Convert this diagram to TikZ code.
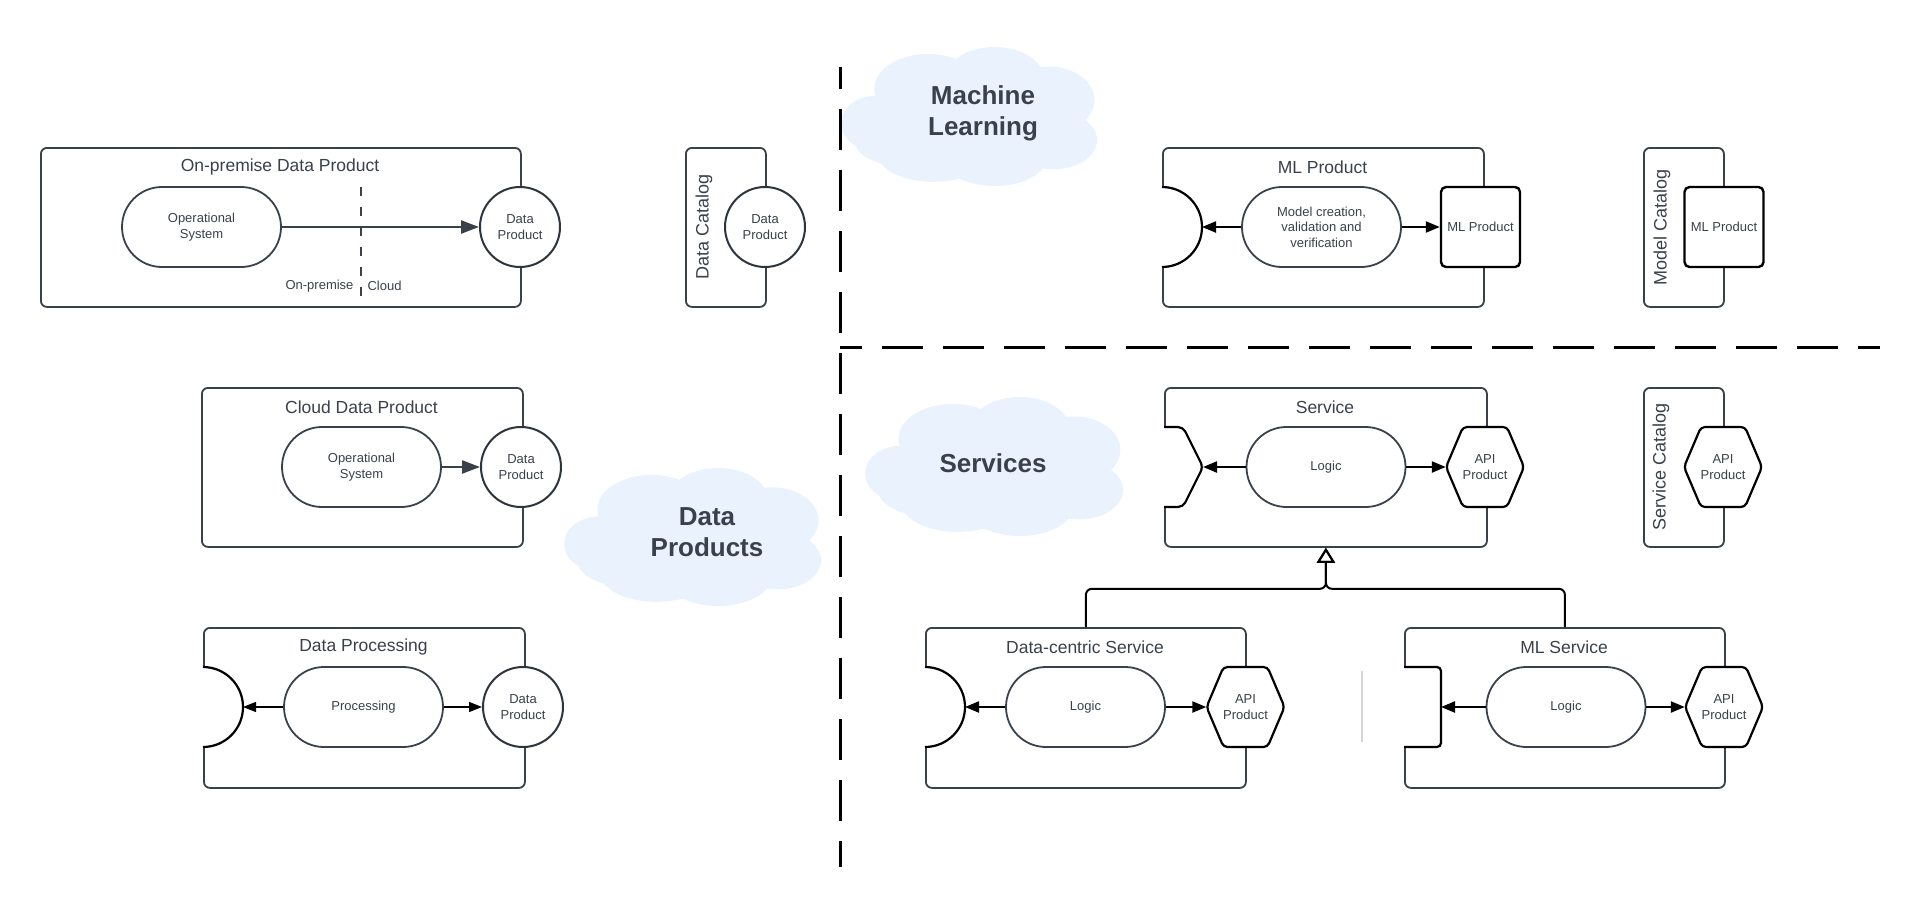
\documentclass[tikz,border=0pt]{standalone}
\usepackage{fontspec}
\setmainfont{Liberation Sans}
\usetikzlibrary{shapes.misc,arrows.meta,calc}
\definecolor{boxline}{HTML}{3A414A}
\definecolor{txt}{HTML}{3A414A}
\definecolor{cloudfill}{HTML}{EAF3FD}
\definecolor{thinline}{HTML}{D6D6D6}
\newcommand{\cloudat}[4]{%
  \begin{scope}[shift={(#1,#2)}, xscale=#3, yscale=#4]
    \fill[cloudfill] (0.5,0.52) ellipse [x radius=0.4, y radius=0.36];
    \fill[cloudfill] (0.14,0.55) ellipse [x radius=0.14, y radius=0.2];
    \fill[cloudfill] (0.22,0.66) ellipse [x radius=0.17, y radius=0.19];
    \fill[cloudfill] (0.34,0.3) ellipse [x radius=0.21, y radius=0.25];
    \fill[cloudfill] (0.6,0.22) ellipse [x radius=0.19, y radius=0.22];
    \fill[cloudfill] (0.81,0.38) ellipse [x radius=0.18, y radius=0.24];
    \fill[cloudfill] (0.83,0.67) ellipse [x radius=0.17, y radius=0.21];
    \fill[cloudfill] (0.6,0.78) ellipse [x radius=0.21, y radius=0.22];
    \fill[cloudfill] (0.36,0.76) ellipse [x radius=0.22, y radius=0.21];
  \end{scope}}
\newcommand{\hexat}[3]{%
  \draw[hexline, shift={(#2,#3)}] (-39,0) -- (-22,-40) -- (22,-40) -- (39,0) -- (22,40) -- (-22,40) -- cycle;
  \node[hexnode] (#1) at (#2,#3) {API\\Product};}
\begin{document}
\begin{tikzpicture}[x=1pt,y=-1pt,
  cbox/.style={draw=boxline, line width=1.8pt, rounded corners=6pt, anchor=north west, inner sep=0pt},
  ttl/.style={text=txt, font=\fontsize{17.5}{20}\selectfont},
  cattext/.style={text=txt, font=\fontsize{18}{21}\selectfont, rotate=90},
  stad/.style={rounded rectangle, draw=boxline, line width=1.8pt, fill=white, minimum width=161pt, minimum height=80pt, inner sep=1pt, align=center, text=txt, font=\fontsize{13}{15.5}\selectfont},
  dpc/.style={circle, draw=boxline!80!black, line width=2pt, fill=white, minimum size=80pt, inner sep=0pt, align=center, text=txt, font=\fontsize{13}{16}\selectfont},
  mlsq/.style={rectangle, rounded corners=5pt, draw=black, line width=2.4pt, fill=white, minimum width=79pt, minimum height=80pt, inner sep=0pt, align=center, text=txt, font=\fontsize{13}{16}\selectfont},
  hexline/.style={draw=black, line width=2.2pt, fill=white, rounded corners=4pt},
  hexnode/.style={minimum width=78pt, minimum height=80pt, inner sep=0pt, align=center, text=txt, font=\fontsize{13}{16}\selectfont},
  notchline/.style={draw=black, line width=2.2pt},
  flow/.style={draw=black, line width=2.2pt, -{Triangle[length=14pt,width=11pt]}},
  thinflow/.style={draw=black, line width=1.2pt, -{Triangle[length=13pt,width=10pt]}},
  grayflow/.style={draw=boxline, line width=2.4pt, -{Triangle[length=18pt,width=13pt]}},
  divider/.style={draw=black, line width=3pt, dash pattern=on 41pt off 20pt, dash phase=19pt},
  inh/.style={draw=black, line width=2pt, rounded corners=6pt, -{Triangle[open,length=15pt,width=18pt]}},
  cloudtext/.style={text=txt, font=\fontsize{26}{31}\selectfont\bfseries, align=center},
  lbl/.style={text=txt, font=\fontsize{13}{15}\selectfont},
]
\fill[white] (0,0) rectangle (1920,907);
\useasboundingbox (0,0) rectangle (1920,907);

% clouds
\cloudat{841}{47}{256}{139}
\cloudat{865}{397}{258}{139}
\cloudat{564}{468}{257}{138}
\node[cloudtext] (mlcloud) at (983,113) {Machine\\Learning};
\node[cloudtext] (svcloud) at (993,463) {Services};
\node[cloudtext] (dpcloud) at (707,532) {Data\\Products};

% dividers
\coordinate (vtop) at (840,67);
\coordinate (vbot) at (840,867);
\coordinate (hleft) at (840,347);
\coordinate (hright) at (1880,347);
\draw[divider] (vtop) -- (vbot);
\draw[divider] (hleft) -- (hright);

% ---------- On-premise Data Product
\node[cbox, minimum width=480pt, minimum height=159pt] (onprem) at (40,147) {};
\node[ttl] (onpremt) at (280,167) {On-premise Data Product};
\coordinate (splittop) at (361,187);
\coordinate (splitbot) at (361,306);
\draw[boxline, line width=1.8pt, dash pattern=on 9pt off 11pt] (splittop) -- (splitbot);
\node[lbl, anchor=east] (onpl) at (357,286) {On-premise};
\node[lbl, anchor=west] (cldl) at (364,286) {Cloud};
\node[stad] (os1) at (201.5,227) {Operational\\System};
\node[dpc] (dp1) at (520,227) {Data\\Product};
\draw[grayflow] (os1.east) -- (dp1.west);

% ---------- Data Catalog
\node[cbox, minimum width=80pt, minimum height=159pt] (dcat) at (685,147) {};
\node[cattext] (dcatt) at (704,227) {Data Catalog};
\node[dpc] (dp2) at (765,227) {Data\\Product};

% ---------- Cloud Data Product
\node[cbox, minimum width=321pt, minimum height=159pt] (cdp) at (201,387) {};
\node[ttl] (cdpt) at (361.5,407) {Cloud Data Product};
\node[stad] (os2) at (361.5,467) {Operational\\System};
\node[dpc] (dp3) at (521,467) {Data\\Product};
\draw[grayflow] (os2.east) -- (dp3.west);

% ---------- Data Processing
\node[cbox, minimum width=321pt, minimum height=160pt] (dproc) at (203,627) {};
\node[ttl] (dproct) at (363.5,647) {Data Processing};
\fill[white] (201.5,667) rectangle (204.5,747);
\draw[notchline] (203,667) arc[start angle=-90, end angle=90, radius=40];
\coordinate (tip1) at (243,707);
\node[stad] (proc) at (363.5,707) {Processing};
\node[dpc] (dp4) at (523,707) {Data\\Product};
\draw[thinflow] (proc.west) -- (tip1);
\draw[thinflow] (proc.east) -- (dp4.west);

% ---------- ML Product
\node[cbox, minimum width=321pt, minimum height=159pt] (mlprod) at (1162,147) {};
\node[ttl] (mlprodt) at (1322.5,167) {ML Product};
\fill[white] (1160.5,187) rectangle (1163.5,267);
\draw[notchline] (1162,187) arc[start angle=-90, end angle=90, radius=40];
\coordinate (tip2) at (1202,227);
\node[stad] (mlc) at (1321.5,227) {Model creation,\\validation and\\verification};
\node[mlsq] (mlp1) at (1480.5,227) {ML Product};
\draw[flow] (mlc.west) -- (tip2);
\draw[flow] (mlc.east) -- (mlp1.west);

% ---------- Model Catalog
\node[cbox, minimum width=80pt, minimum height=159pt] (mcat) at (1643,147) {};
\node[cattext] (mcatt) at (1662,227) {Model Catalog};
\node[mlsq] (mlp2) at (1724,227) {ML Product};

% ---------- Service
\node[cbox, minimum width=322pt, minimum height=159pt] (svc) at (1164,387) {};
\node[ttl] (svct) at (1325,407) {Service};
\fill[white] (1162.5,427) rectangle (1165.5,507);
\draw[notchline, rounded corners=5pt] (1164,427) -- (1183,427) -- (1203,467) -- (1183,507) -- (1164,507);
\coordinate (tip3) at (1203,467);
\node[stad] (logic1) at (1326,467) {Logic};
\hexat{api1}{1485}{467}
\draw[flow] (logic1.west) -- (tip3);
\draw[flow] (logic1.east) -- (api1.west);

% ---------- Service Catalog
\node[cbox, minimum width=80pt, minimum height=159pt] (scat) at (1643,387) {};
\node[cattext] (scatt) at (1661,467) {Service Catalog};
\hexat{api2}{1723}{467}

% ---------- Data-centric Service
\node[cbox, minimum width=320pt, minimum height=160pt] (dcs) at (925,627) {};
\node[ttl] (dcst) at (1085,647) {Data-centric Service};
\fill[white] (923.5,667) rectangle (926.5,747);
\draw[notchline] (925,667) arc[start angle=-90, end angle=90, radius=40];
\coordinate (tip4) at (965,707);
\node[stad] (logic2) at (1085.5,707) {Logic};
\hexat{api3}{1245.5}{707}
\draw[flow] (logic2.west) -- (tip4);
\draw[flow] (logic2.east) -- (api3.west);

% thin separator
\coordinate (thintop) at (1362,671);
\coordinate (thinbot) at (1362,742);
\draw[thinline, line width=1.2pt] (thintop) -- (thinbot);

% ---------- ML Service
\node[cbox, minimum width=320pt, minimum height=160pt] (mls) at (1404,627) {};
\node[ttl] (mlst) at (1564,647) {ML Service};
\fill[white] (1402.5,667) rectangle (1405.5,747);
\draw[notchline, rounded corners=4pt] (1404,667) -- (1441,667) -- (1441,747) -- (1404,747);
\coordinate (tip5) at (1441,707);
\node[stad] (logic3) at (1566,707) {Logic};
\hexat{api4}{1724}{707}
\draw[flow] (logic3.west) -- (tip5);
\draw[flow] (logic3.east) -- (api4.west);

% ---------- inheritance
\draw[inh] (dcs.north) |- ($(svc.south)+(0,41)$) -- (svc.south);
\draw[inh] (mls.north) |- ($(svc.south)+(0,41)$) -- (svc.south);
\end{tikzpicture}
\end{document}
